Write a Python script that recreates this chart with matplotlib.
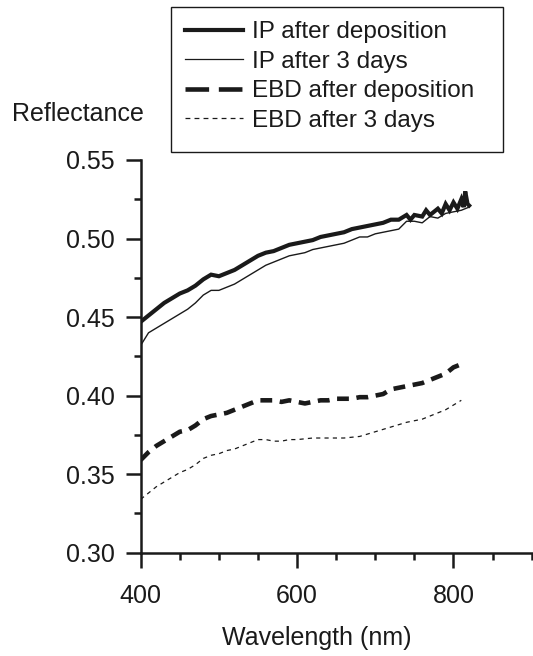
import matplotlib.pyplot as plt
from matplotlib.lines import Line2D
from matplotlib.patches import Rectangle
from matplotlib.ticker import MultipleLocator

plt.rcParams['font.family'] = ['Liberation Sans', 'DejaVu Sans']
plt.rcParams['font.size'] = 18
plt.rcParams['lines.scale_dashes'] = False

# IP after deposition (thick, noisy)
wl_ip_dep = [400, 410, 420, 430, 440, 450, 460, 470, 480, 490, 500, 510, 520, 530,
             540, 550, 560, 570, 580, 590, 600, 610, 620, 630, 640, 650, 660, 670,
             680, 690, 700, 710, 720, 730, 740, 745, 750, 760, 765, 770, 780, 785,
             790, 795, 800, 805, 810, 813, 815, 818, 820]
ip_dep = [0.447, 0.451, 0.455, 0.459, 0.462, 0.465, 0.467, 0.470, 0.474, 0.477, 0.476,
          0.478, 0.480, 0.483, 0.486, 0.489, 0.491, 0.492, 0.494, 0.496, 0.497, 0.498,
          0.499, 0.501, 0.502, 0.503, 0.504, 0.506, 0.507, 0.508, 0.509, 0.510, 0.512,
          0.512, 0.515, 0.512, 0.515, 0.514, 0.518, 0.515, 0.519, 0.516, 0.522, 0.518,
          0.523, 0.519, 0.525, 0.520, 0.530, 0.522, 0.521]

# IP after 3 days (thin)
wl_ip_3d = [400, 405, 410, 420, 430, 440, 450, 460, 470, 480, 490, 500, 510, 520, 530,
            540, 550, 560, 570, 580, 590, 600, 610, 620, 630, 640, 650, 660, 670, 680,
            690, 700, 710, 720, 730, 740, 750, 760, 770, 780, 790, 800, 810, 820]
ip_3d = [0.432, 0.436, 0.440, 0.443, 0.446, 0.449, 0.452, 0.455, 0.459, 0.464, 0.467,
         0.467, 0.469, 0.471, 0.474, 0.477, 0.480, 0.483, 0.485, 0.487, 0.489, 0.490,
         0.491, 0.493, 0.494, 0.495, 0.496, 0.497, 0.499, 0.501, 0.501, 0.503, 0.504,
         0.505, 0.506, 0.511, 0.511, 0.510, 0.514, 0.513, 0.516, 0.517, 0.518, 0.520]

# EBD after deposition (thick dashed)
wl_ebd_dep = [400, 410, 420, 430, 440, 450, 460, 470, 480, 490, 500, 510, 520, 530, 540,
              550, 560, 570, 580, 590, 600, 610, 620, 630, 640, 650, 660, 670, 680, 690,
              700, 710, 720, 730, 740, 750, 760, 770, 780, 790, 800, 810, 815]
ebd_dep = [0.359, 0.364, 0.368, 0.371, 0.374, 0.377, 0.378, 0.381, 0.385, 0.387, 0.388,
           0.389, 0.391, 0.393, 0.395, 0.397, 0.397, 0.397, 0.396, 0.397, 0.396, 0.395,
           0.396, 0.397, 0.397, 0.398, 0.398, 0.398, 0.399, 0.399, 0.400, 0.401, 0.404,
           0.405, 0.406, 0.407, 0.408, 0.410, 0.412, 0.414, 0.418, 0.420, 0.421]

# EBD after 3 days (thin dashed)
wl_ebd_3d = [400, 410, 420, 430, 440, 450, 460, 470, 480, 490, 500, 510, 520, 530, 540,
             550, 560, 570, 580, 590, 600, 620, 640, 660, 680, 700, 720, 740, 760, 780,
             790, 800, 810]
ebd_3d = [0.334, 0.338, 0.342, 0.345, 0.348, 0.351, 0.353, 0.356, 0.360, 0.362, 0.363,
          0.365, 0.366, 0.368, 0.370, 0.372, 0.372, 0.371, 0.371, 0.372, 0.372, 0.373,
          0.373, 0.373, 0.374, 0.377, 0.380, 0.383, 0.385, 0.389, 0.391, 0.394, 0.397]

labels = ['IP after deposition', 'IP after 3 days', 'EBD after deposition', 'EBD after 3 days']
xticks = [400, 600, 800]
yticks = [0.30, 0.35, 0.40, 0.45, 0.50, 0.55]

fig = plt.figure(figsize=(5.33, 6.56), dpi=100)
ax = fig.add_axes([0.264, 0.1575, 0.7335, 0.5986])
col = '#1a1a1a'

ax.plot(wl_ip_dep, ip_dep, color=col, lw=3.0, solid_joinstyle='miter')
ax.plot(wl_ip_3d, ip_3d, color=col, lw=1.0)
ax.plot(wl_ebd_dep, ebd_dep, color=col, lw=3.3, dashes=(8.5, 5.5))
ax.plot(wl_ebd_3d, ebd_3d, color=col, lw=0.9, dashes=(3, 3))

ax.set_xlim(400, 900)
ax.set_ylim(0.30, 0.55)
ax.set_xticks(xticks)
ax.set_yticks(yticks)
ax.set_yticklabels(['%.2f' % v for v in yticks])
ax.xaxis.set_minor_locator(MultipleLocator(50))
ax.yaxis.set_minor_locator(MultipleLocator(0.025))
for s in ['top', 'right']:
    ax.spines[s].set_visible(False)
for s in ['left', 'bottom']:
    ax.spines[s].set_linewidth(1.8)
    ax.spines[s].set_color(col)
ax.tick_params(which='major', length=10.5, width=1.8, color=col, direction='out')
ax.tick_params(which='minor', length=5, width=1.8, color=col, direction='out')
ax.tick_params(axis='x', which='major', pad=12, labelcolor=col)
ax.tick_params(axis='y', which='major', pad=8, labelcolor=col)

fig.text(0.1455, 0.8262, 'Reflectance', ha='center', va='center', color=col)
fig.text(0.594, 0.028, 'Wavelength (nm)', ha='center', va='center', color=col)

# legend box
fig.add_artist(Rectangle((170.7 / 533, 1 - 151.7 / 656), 332 / 533, 144.7 / 656,
                         transform=fig.transFigure, fill=False, lw=1.0, ec=col))
handles = [Line2D([], [], color=col, lw=3.0),
           Line2D([], [], color=col, lw=0.9),
           Line2D([], [], color=col, lw=3.3, dashes=(17, 7)),
           Line2D([], [], color=col, lw=0.9, dashes=(3.5, 3))]
fig.legend(handles, labels, loc='upper left', bbox_to_anchor=(185 / 533, 1 - 21 / 656),
           frameon=False, handlelength=2.4, handletextpad=0.36, labelspacing=0.31,
           borderaxespad=0, borderpad=0, labelcolor=col, fontsize=17.5)

fig.savefig('out.png', dpi=100)
